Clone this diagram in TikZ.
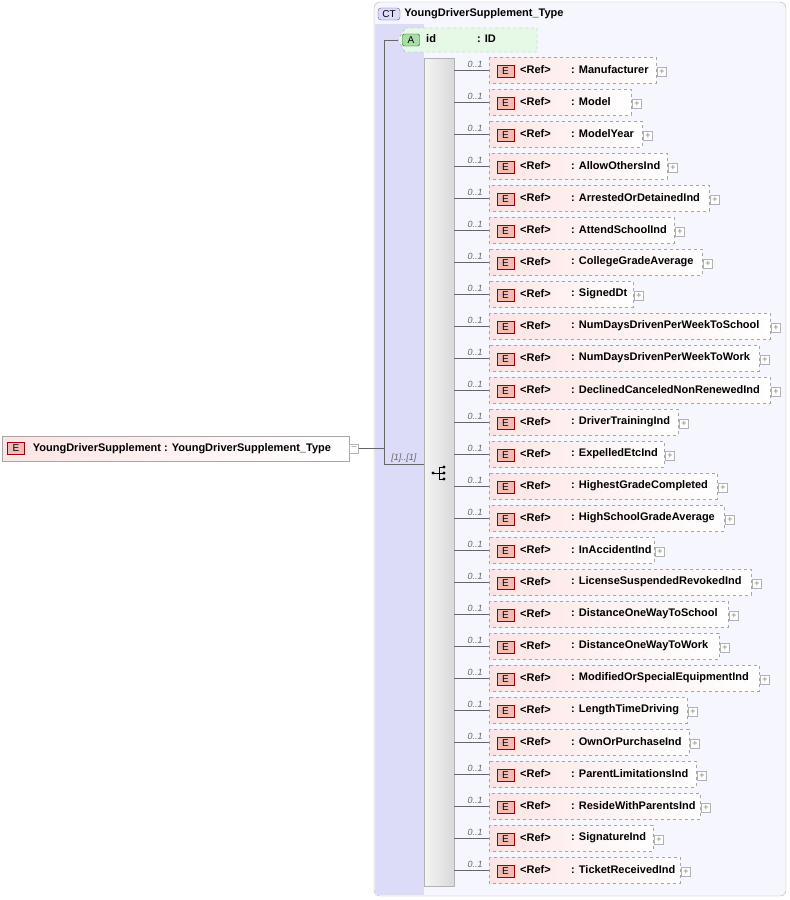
\documentclass[tikz,border=0pt]{standalone}
\usepackage{fontspec}
\setmainfont{Liberation Sans}
\usetikzlibrary{positioning}
\definecolor{ctfill}{HTML}{F6F6FF}
\definecolor{ctleft}{HTML}{DCDCF8}
\definecolor{efill}{HTML}{FDE4E4}
\definecolor{ebadge}{HTML}{F7B8B8}
\definecolor{afill}{HTML}{E6F8E6}
\definecolor{abadge}{HTML}{A8DCA8}

\begin{document}
\begin{tikzpicture}[x=1pt, y=-1pt, font=\bfseries\fontsize{11}{13}\selectfont, %
      elem/.style={draw=gray!70, dashed, left color=efill, right color=white, inner sep=0pt}, %
      badge/.style={draw=red!60!black, fill=ebadge, minimum width=17pt, minimum height=12pt, inner sep=0pt, font=\fontsize{10}{10}\selectfont}, %
      plus/.style={draw=gray!60, fill=white, minimum size=9pt, inner sep=0pt, font=\fontsize{9}{9}\selectfont\color{gray}}, %
      conn/.style={gray!80!black, thin}, %
      card/.style={font=\itshape\fontsize{9}{10}\selectfont, inner sep=1pt}, %
      ]
    \useasboundingbox (0,0) rectangle (790,900);

    % complex type frame
    \draw[gray!60, rounded corners=6pt, fill=ctfill] (374,2) rectangle (786,896);
    \fill[ctleft] (375,24) rectangle (424,895);
    \node[draw=gray!70!blue, fill=ctleft, rounded corners=3pt, inner sep=1pt, minimum width=22pt, minimum height=12pt, font=\fontsize{10}{10}\selectfont] (ct) at (389,14) {CT};
    \node[right=4pt of ct, inner sep=0pt] (ctname) {YoungDriverSupplement\_Type};

    % root element
    \node[draw=gray!70, left color=efill, right color=white, minimum width=347pt, minimum height=25pt, inner sep=0pt] (root) at (175.5,448.5) {};
    \node[badge] (rootE) at (16,448.5) {E};
    \node[right=8pt of rootE, inner sep=0pt] {YoungDriverSupplement : YoungDriverSupplement\_Type};
    \node[plus] (rootminus) at (354,448.5) {--};

    % attribute
    \draw[gray!70, dashed, fill=afill] (405,28) -- (537,28) -- (537,52) -- (405,52) -- (398,40) -- cycle;
    \node[draw=green!40!black, fill=abadge, rounded corners=2pt, minimum width=17pt, minimum height=12pt, inner sep=0pt, font=\fontsize{10}{10}\selectfont] (attA) at (411,40) {A};
    \node[anchor=west, inner sep=0pt] at (426,39) {id};
    \node[anchor=west, inner sep=0pt] at (477,39) {: ID};
    \coordinate (att) at (398,40);

    % sequence compositor
    \node[draw=gray!60, left color=gray!8, right color=gray!30, minimum width=30pt, minimum height=828pt, inner sep=0pt] (seq) at (439,472) {};
    \coordinate (branch) at (384,448.5);
    \draw[conn] (rootminus.east) -- (branch) |- (att);
    \draw[conn] (branch) |- (seq.west |- 0,464) node[card, pos=0.75, above] {[1]..[1]};

    % sequence symbol
    \draw[thick] (433,473) -- (439,473);
    \draw[thick] (439,467) -- (439,479);
    \foreach \yy in {467,473,479} { \draw[thick] (439,\yy) -- (444,\yy); \fill (444,\yy) circle (1.7pt); }
    \fill (433,473) circle (1.7pt);

    % child elements
    \foreach \nm/\rx [count=\i from 0] in { %
      Manufacturer/656, Model/631, ModelYear/642, AllowOthersInd/667, %
      ArrestedOrDetainedInd/709, AttendSchoolInd/674, CollegeGradeAverage/702, %
      SignedDt/633, NumDaysDrivenPerWeekToSchool/770, NumDaysDrivenPerWeekToWork/759, %
      DeclinedCanceledNonRenewedInd/770, DriverTrainingInd/678, ExpelledEtcInd/664, %
      HighestGradeCompleted/717, HighSchoolGradeAverage/724, InAccidentInd/654, %
      LicenseSuspendedRevokedInd/751, DistanceOneWayToSchool/728, DistanceOneWayToWork/719, %
      ModifiedOrSpecialEquipmentInd/759, LengthTimeDriving/687, OwnOrPurchaseInd/689, %
      ParentLimitationsInd/696, ResideWithParentsInd/700, SignatureInd/653, TicketReceivedInd/680%
    }{ %
      \pgfmathsetmacro{\yc}{70+32*\i}
      \draw[elem] (489,\yc-13) rectangle (\rx,\yc+13);
      \node[badge] (e\i) at (505.5,\yc+1) {E};
      \node[anchor=west, inner sep=0pt] at (520,\yc) {<Ref>};
      \node[anchor=west, inner sep=0pt] (n\i) at (571,\yc) {: \nm};
      \node[plus] at (\rx+6,\yc+2) {+};
      \coordinate (in\i) at (489,\yc);
      \draw[conn] (seq.east |- in\i) -- (in\i) node[card, pos=0.6, above=1pt] {0..1};
    }
\end{tikzpicture}
\end{document}
